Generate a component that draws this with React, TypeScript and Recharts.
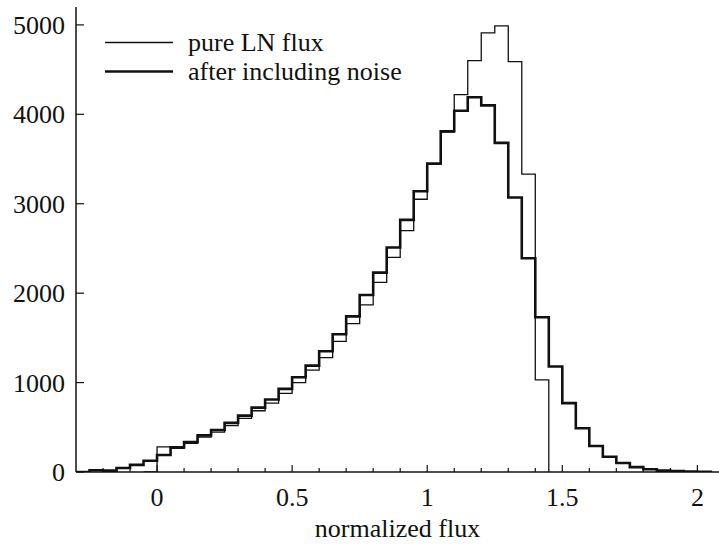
import React from "react"
import { LineChart, Line, XAxis, YAxis, Legend } from "recharts"

// left edge of each 0.05-wide flux bin
const binEdges = [
  -0.3, -0.25, -0.2, -0.15, -0.1, -0.05, 0, 0.05, 0.1, 0.15, 0.2, 0.25,
  0.3, 0.35, 0.4, 0.45, 0.5, 0.55, 0.6, 0.65, 0.7, 0.75, 0.8, 0.85,
  0.9, 0.95, 1, 1.05, 1.1, 1.15, 1.2, 1.25, 1.3, 1.35, 1.4, 1.45,
  1.5, 1.55, 1.6, 1.65, 1.7, 1.75, 1.8, 1.85, 1.9, 1.95, 2, 2.05,
]

const pureLN = [
  null, null, null, null, null, 0, 280, 265, 320, 390, 445, 520,
  600, 685, 770, 880, 1000, 1140, 1280, 1460, 1660, 1870, 2120, 2400,
  2700, 3050, 3440, 3800, 4220, 4600, 4910, 4990, 4590, 3330, 1030, 0,
  null, null, null, null, null, null, null, null, null, null, null, null,
]

const withNoise = [
  0, 20, 15, 45, 80, 125, 190, 275, 335, 410, 470, 550,
  630, 720, 810, 930, 1060, 1190, 1350, 1540, 1740, 1980, 2230, 2510,
  2820, 3140, 3450, 3810, 4040, 4190, 4100, 3680, 3070, 2390, 1730, 1180,
  770, 490, 290, 170, 100, 55, 30, 15, 10, 6, 3, 0,
]

const xTicks = [-0.2, -0.1, 0, 0.1, 0.2, 0.3, 0.4, 0.5, 0.6, 0.7, 0.8, 0.9, 1, 1.1, 1.2, 1.3, 1.4, 1.5, 1.6, 1.7, 1.8, 1.9, 2]
const xLabels = [0, 0.5, 1, 1.5, 2]
const yTicks = [0, 1000, 2000, 3000, 4000, 5000]

const legendItems = [
  { label: "pure LN flux", width: 1.3 },
  { label: "after including noise", width: 2.6 },
]

const data = binEdges.map((x, i) => ({ x, pure: pureLN[i], noise: withNoise[i] }))

const FONT = '"Liberation Serif", "Times New Roman", serif'
const INK = "#111"

const isMajor = (v: number) => xLabels.some((l) => Math.abs(l - v) < 1e-6)

function BottomTick(props: any) {
  const { x, y, payload } = props
  const major = isMajor(payload.value)
  return (
    <g>
      <line x1={x} x2={x} y1={y} y2={y - (major ? 7 : 4)} stroke={INK} strokeWidth={1.2} />
      {major && (
        <text x={x} y={y + 34} textAnchor="middle" fontSize={26} fontFamily={FONT} fill={INK}>
          {payload.value}
        </text>
      )}
    </g>
  )
}

function TopTick(props: any) {
  const { x, y, payload } = props
  const major = isMajor(payload.value)
  return <line x1={x} x2={x} y1={y} y2={y + (major ? 7 : 4)} stroke={INK} strokeWidth={1.2} />
}

function LeftTick(props: any) {
  const { x, y, payload } = props
  return (
    <g>
      <line x1={x} x2={x + 8} y1={y} y2={y} stroke={INK} strokeWidth={1.2} />
      <text x={x - 11} y={y} dy="0.35em" textAnchor="end" fontSize={26} fontFamily={FONT} fill={INK}>
        {payload.value}
      </text>
    </g>
  )
}

function AxisTitle(props: any) {
  const { viewBox } = props
  return (
    <text
      x={viewBox.x + viewBox.width / 2}
      y={viewBox.y + viewBox.height - 8}
      textAnchor="middle"
      fontSize={26}
      fontFamily={FONT}
      fill={INK}
    >
      normalized flux
    </text>
  )
}

const renderLegend = () => (
  <div style={{ fontFamily: FONT, fontSize: 26, color: INK }}>
    {legendItems.map((item) => (
      <div key={item.label} style={{ display: "flex", alignItems: "center", height: 29 }}>
        <svg width={68} height={29}>
          <line x1={0} x2={68} y1={14.5} y2={14.5} stroke={INK} strokeWidth={item.width} />
        </svg>
        <span style={{ marginLeft: 15, whiteSpace: "nowrap" }}>{item.label}</span>
      </div>
    ))}
  </div>
)

export default function App() {
  return (
    <div style={{ position: "absolute", left: 0, top: 0, width: 719, height: 545, background: "#fff" }}>
      <LineChart width={719} height={545} data={data} margin={{ top: 7, right: 0, bottom: 0, left: 0 }}>
        <XAxis
          dataKey="x"
          type="number"
          domain={[-0.3, 2.08]}
          allowDataOverflow
          ticks={xTicks}
          interval={0}
          height={73}
          tickLine={false}
          tickSize={0}
          tickMargin={0}
          tick={<BottomTick />}
          axisLine={{ stroke: INK, strokeWidth: 1.5 }}
          label={<AxisTitle />}
        />
        <XAxis
          xAxisId="top"
          orientation="top"
          dataKey="x"
          type="number"
          domain={[-0.3, 2.08]}
          allowDataOverflow
          ticks={xTicks}
          interval={0}
          height={0}
          tickLine={false}
          tickSize={0}
          tickMargin={0}
          tick={<TopTick />}
          axisLine={{ stroke: INK, strokeWidth: 1.5 }}
        />
        <YAxis
          type="number"
          domain={[0, 5200]}
          allowDataOverflow
          ticks={yTicks}
          interval={0}
          width={76}
          tickLine={false}
          tickSize={0}
          tickMargin={0}
          tick={<LeftTick />}
          axisLine={{ stroke: INK, strokeWidth: 1.5 }}
        />
        <Legend
          layout="horizontal"
          verticalAlign="middle"
          align="center"
          content={renderLegend}
          wrapperStyle={{ left: 105, top: 28, width: 400 }}
        />
        <Line
          type="stepAfter"
          dataKey="pure"
          stroke={INK}
          strokeWidth={1.3}
          strokeLinejoin="miter"
          dot={false}
          activeDot={false}
          connectNulls={false}
          isAnimationActive={false}
        />
        <Line
          type="stepAfter"
          dataKey="noise"
          stroke={INK}
          strokeWidth={2.6}
          strokeLinejoin="miter"
          dot={false}
          activeDot={false}
          connectNulls={false}
          isAnimationActive={false}
        />
      </LineChart>
    </div>
  )
}
